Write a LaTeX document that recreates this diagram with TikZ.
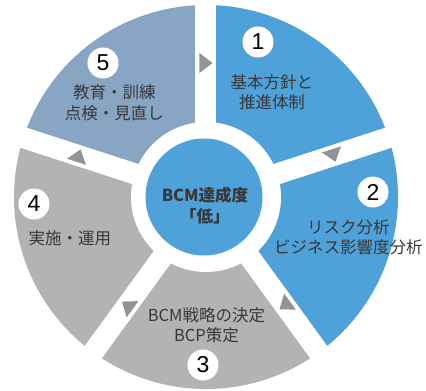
\documentclass[tikz,border=0pt]{standalone}
\usepackage{fontspec}
\setmainfont{Noto Sans CJK JP}
\newfontfamily\numfont{Liberation Sans}
\definecolor{txt}{HTML}{3A3737}
\begin{document}
\begin{tikzpicture}[x=1pt, y=1pt,
  numdot/.style={circle, fill=white, inner sep=0pt, minimum size=31pt, text=black, font=\numfont\fontsize{23}{23}\selectfont},
  steptext/.style={align=center, text=txt, inner sep=0pt, font=\fontsize{16.5}{20.5}\selectfont}]
\useasboundingbox (-206,-194) rectangle (220,197);
% ring
\definecolor{col}{HTML}{4EA1D9}
\fill[col] (0,0) -- (18:192) arc[start angle=18, end angle=90, radius=192] -- cycle;
\fill[col] (0,0) -- (-54:192) arc[start angle=-54, end angle=18, radius=192] -- cycle;
\definecolor{col}{HTML}{B3B3B3}
\fill[col] (0,0) -- (-126:192) arc[start angle=-126, end angle=-54, radius=192] -- cycle;
\fill[col] (0,0) -- (162:192) arc[start angle=162, end angle=234, radius=192] -- cycle;
\definecolor{col}{HTML}{88A6C4}
\fill[col] (0,0) -- (90:192) arc[start angle=90, end angle=162, radius=192] -- cycle;
% gaps
\fill[white, rotate=90] (0,-10.5) rectangle (200,10.5);
\fill[white, rotate=18] (0,-10.5) rectangle (200,10.5);
\fill[white, rotate=-54] (0,-10.5) rectangle (200,10.5);
\fill[white, rotate=-126] (0,-10.5) rectangle (200,10.5);
\fill[white, rotate=162] (0,-10.5) rectangle (200,10.5);
\fill[white] (0,0) circle[radius=75];
\definecolor{col}{HTML}{4EA1D9}
\fill[col] (-2,0) circle[radius=58.5];
% cues
\definecolor{col}{HTML}{929396}
\fill[col, rotate=90] (124,6.5) -- (144,6.5) -- (134,-6.5) -- cycle;
\fill[col, rotate=18] (124,6.5) -- (144,6.5) -- (134,-6.5) -- cycle;
\fill[col, rotate=-54] (124,6.5) -- (144,6.5) -- (134,-6.5) -- cycle;
\fill[col, rotate=-126] (124,6.5) -- (144,6.5) -- (134,-6.5) -- cycle;
\fill[col, rotate=162] (124,6.5) -- (144,6.5) -- (134,-6.5) -- cycle;
% steps
\node[numdot] (n1) at (52,155) {1};
\node[steptext] (t1) at (66,105) {基本方針と\\推進体制};
\node[numdot] (n2) at (167,5) {2};
\node[steptext] (t2) at (142.5,-40.5) {リスク分析\\ビジネス影響度分析};
\node[numdot] (n3) at (-3,-168) {3};
\node[steptext] (t3) at (0.5,-128) {BCM戦略の決定\\BCP策定};
\node[numdot] (n4) at (-172,-7) {4};
\node[steptext] (t4) at (-136,-41) {実施・運用};
\node[numdot] (n5) at (-103,134) {5};
\node[steptext] (t5) at (-91.5,94) {教育・訓練\\点検・見直し};
\node[steptext, font=\bfseries\fontsize{16.5}{21.5}\selectfont] (goal) at (-1,-8.5) {BCM達成度\\「低」};
\end{tikzpicture}
\end{document}
